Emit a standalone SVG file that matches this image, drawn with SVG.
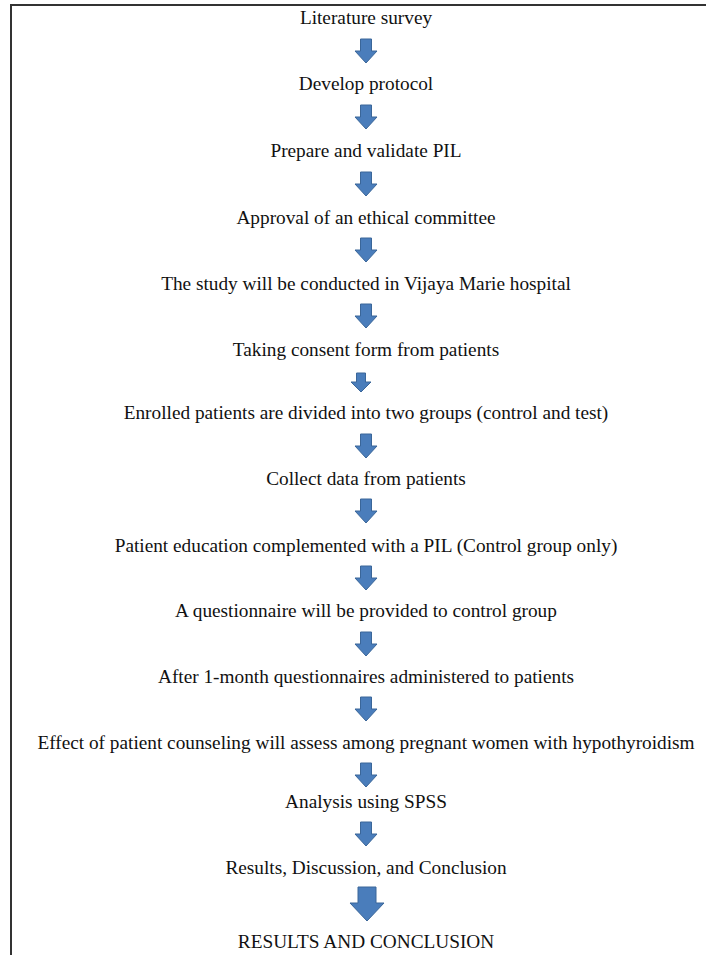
<svg xmlns="http://www.w3.org/2000/svg" width="706" height="955" viewBox="0 0 706 955">
<style>
text{font-family:"Liberation Serif","Times New Roman",serif;font-size:19.3px;fill:#111;text-anchor:middle}
.arr{fill:#4a7dbb;stroke:#3a6699;stroke-width:1}
.frame{stroke:#333;stroke-width:2;fill:none}
</style>
<defs>
<path id="ar" class="arr" d="M-5.5,0 H5.5 V12 H11 L0,24 L-11,12 H-5.5 Z"/>
<path id="ars" class="arr" d="M-4.5,0 H4.5 V9 H10 L0,19 L-10,9 H-4.5 Z"/>
<path id="arb" class="arr" d="M-9,0 H9 V16 H17 L0,34 L-17,16 H-9 Z"/>
</defs>
<rect width="706" height="955" fill="#fff"/>
<path class="frame" d="M11,955 V5 H706"/>
<g id="connectors">
<use href="#ar" x="366" y="39"/>
<use href="#ar" x="366" y="105"/>
<use href="#ar" x="366" y="172"/>
<use href="#ar" x="366" y="238"/>
<use href="#ar" x="366" y="304"/>
<use href="#ars" x="361" y="373"/>
<use href="#ar" x="366" y="434"/>
<use href="#ar" x="366" y="499"/>
<use href="#ar" x="366" y="566"/>
<use href="#ar" x="366" y="632"/>
<use href="#ar" x="366" y="697"/>
<use href="#ar" x="366" y="763"/>
<use href="#ar" x="366" y="822"/>
<use href="#arb" x="367" y="887"/>
</g>
<g id="n1"><text x="366" y="24">Literature survey</text></g>
<g id="n2"><text x="366" y="90">Develop protocol</text></g>
<g id="n3"><text x="366" y="157">Prepare and validate PIL</text></g>
<g id="n4"><text x="366" y="224">Approval of an ethical committee</text></g>
<g id="n5"><text x="366" y="290">The study will be conducted in Vijaya Marie hospital</text></g>
<g id="n6"><text x="366" y="356">Taking consent form from patients</text></g>
<g id="n7"><text x="366" y="419">Enrolled patients are divided into two groups (control and test)</text></g>
<g id="n8"><text x="366" y="485">Collect data from patients</text></g>
<g id="n9"><text x="366" y="552">Patient education complemented with a PIL (Control group only)</text></g>
<g id="n10"><text x="366" y="617">A questionnaire will be provided to control group</text></g>
<g id="n11"><text x="366" y="683">After 1-month questionnaires administered to patients</text></g>
<g id="n12"><text x="366" y="749">Effect of patient counseling will assess among pregnant women with hypothyroidism</text></g>
<g id="n13"><text x="366" y="808">Analysis using SPSS</text></g>
<g id="n14"><text x="366" y="874">Results, Discussion, and Conclusion</text></g>
<g id="n15"><text x="366" y="948">RESULTS AND CONCLUSION</text></g>
</svg>
